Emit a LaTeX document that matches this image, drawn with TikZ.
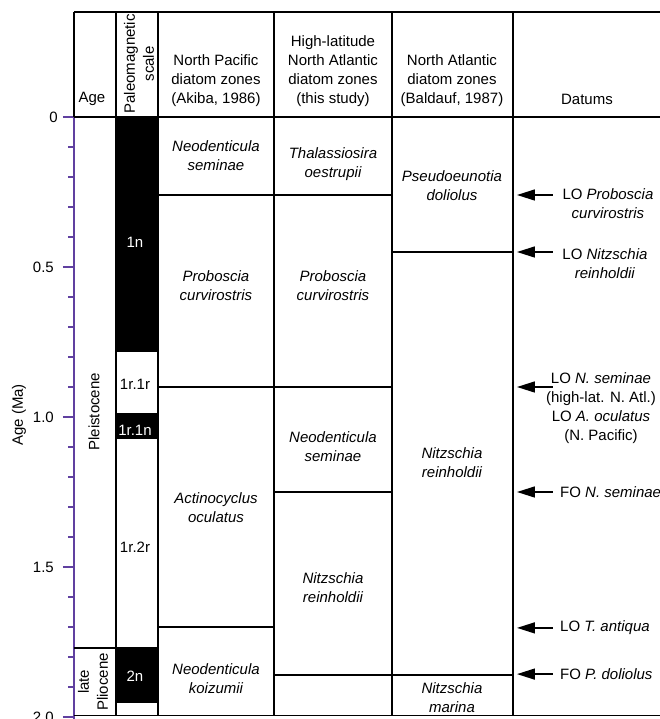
\documentclass[tikz,border=0pt]{standalone}
\usepackage{fontspec}
\setmainfont{Liberation Sans}
\usetikzlibrary{arrows.meta}
\definecolor{axispurple}{RGB}{96,64,160}

\begin{document}
\begin{tikzpicture}[x=1bp,y=-300bp,
    txt/.style={font=\fontsize{15bp}{19bp}\selectfont,align=center,inner sep=0pt},
    zone/.style={txt,font=\fontsize{15bp}{19bp}\selectfont\itshape},
    rule/.style={line width=1.6bp},
    datum/.style={line width=1.6bp,-{Triangle[length=18bp,width=11bp]}}]
		\useasboundingbox (-74,-0.39) rectangle (586,2.0067);
		%\draw[gray,step=0.1] (0,0) grid (586,2);
		% age axis
		\draw[axispurple,line width=2bp] (0,0) -- (0,2.05);
		\foreach \t in {0.1,0.2,...,1.95}
			\draw[axispurple,line width=1.5bp] (-6,\t) -- (0,\t);
		\foreach \t in {0,0.5,1,1.5,2}
			\draw[axispurple,line width=1.5bp] (-11,\t) -- (0,\t);
		\node[txt,anchor=east] (tl0) at (-16,0) {0};
		\node[txt,anchor=east] (tl1) at (-20,0.5) {0.5};
		\node[txt,anchor=east] (tl2) at (-20,1) {1.0};
		\node[txt,anchor=east] (tl3) at (-20,1.5) {1.5};
		\node[txt,anchor=east] (tl4) at (-20,2) {2.0};
		\node[txt,rotate=90] (agema) at (-55,0.993) {Age (Ma)};
		% table frame
		\draw[rule] (0,-0.35) -- (588,-0.35);
		\draw[rule] (0,0) -- (588,0);
		\draw[rule] (0,1.995) -- (588,1.995);
		\draw[rule] (0,-0.35) -- (0,0);
		\draw[rule] (42,-0.35) -- (42,1.995);
		\draw[rule] (84,-0.35) -- (84,1.995);
		\draw[rule] (200,-0.35) -- (200,1.995);
		\draw[rule] (318,-0.35) -- (318,1.995);
		\draw[rule] (439,-0.35) -- (439,1.995);
		\draw[rule] (588,-0.35) -- (588,1.995);
		% headers
		\node[txt] (hage) at (18,-0.06) {Age};
		\node[txt,rotate=90] (hpal) at (65,-0.177) {Paleomagnetic\\scale};
		\node[txt] (hnp) at (142,-0.12) {North Pacific\\diatom zones\\(Akiba, 1986)};
		\node[txt] (hhl) at (259,-0.152) {High-latitude\\North Atlantic\\diatom zones\\(this study)};
		\node[txt] (hna) at (378,-0.12) {North Atlantic\\diatom zones\\(Baldauf, 1987)};
		\node[txt] (hdat) at (513,-0.06) {Datums};
		% epochs
		\draw[rule] (0,1.77) -- (42,1.77);
		\node[txt,rotate=90] (pleist) at (20,0.983) {Pleistocene};
		\node[txt,rotate=90] (plio) at (19,1.883) {late\\Pliocene};
		% paleomagnetic scale
		\filldraw[rule] (42,0) rectangle (84,0.78);
		\filldraw[rule] (42,0.99) rectangle (84,1.07);
		\filldraw[rule] (42,1.77) rectangle (84,1.95);
		\node[txt,text=white] (c1n) at (61,0.417) {1n};
		\node[txt] (c1r1r) at (61,0.89) {1r.1r};
		\node[txt,text=white] (c1r1n) at (61,1.043) {1r.1n};
		\node[txt] (c1r2r) at (61,1.433) {1r.2r};
		\node[txt,text=white] (c2n) at (61,1.863) {2n};
		% North Pacific zones
		\draw[rule] (84,0.26) -- (200,0.26);
		\draw[rule] (84,0.9) -- (200,0.9);
		\draw[rule] (84,1.7) -- (200,1.7);
		\node[zone] (npsem) at (142,0.13) {Neodenticula\\seminae};
		\node[zone] (npcur) at (142,0.563) {Proboscia\\curvirostris};
		\node[zone] (npocu) at (142,1.303) {Actinocyclus\\oculatus};
		\node[zone] (npkoi) at (142,1.872) {Neodenticula\\koizumii};
		% high-latitude North Atlantic zones
		\draw[rule] (200,0.26) -- (318,0.26);
		\draw[rule] (200,0.9) -- (318,0.9);
		\draw[rule] (200,1.25) -- (318,1.25);
		\draw[rule] (200,1.86) -- (318,1.86);
		\node[zone] (hloes) at (259,0.157) {Thalassiosira\\oestrupii};
		\node[zone] (hlcur) at (259,0.563) {Proboscia\\curvirostris};
		\node[zone] (hlsem) at (259,1.098) {Neodenticula\\seminae};
		\node[zone] (hlrei) at (259,1.568) {Nitzschia\\reinholdii};
		% North Atlantic zones
		\draw[rule] (318,0.45) -- (439,0.45);
		\draw[rule] (318,1.86) -- (439,1.86);
		\node[zone] (nadol) at (378,0.23) {Pseudoeunotia\\doliolus};
		\node[zone] (narei) at (378,1.152) {Nitzschia\\reinholdii};
		\node[zone] (namar) at (378,1.937) {Nitzschia\\marina};
		% datums
		\coordinate (d1s) at (479,0.26);  \coordinate (d1t) at (443,0.26);
		\coordinate (d2s) at (479,0.45);  \coordinate (d2t) at (443,0.45);
		\coordinate (d3s) at (479,0.9);   \coordinate (d3t) at (443,0.9);
		\coordinate (d4s) at (479,1.25);  \coordinate (d4t) at (443,1.25);
		\coordinate (d5s) at (479,1.703); \coordinate (d5t) at (443,1.703);
		\coordinate (d6s) at (479,1.857); \coordinate (d6t) at (443,1.857);
		\draw[datum] (d1s) -- (d1t);
		\draw[datum] (d2s) -- (d2t);
		\draw[datum] (d3s) -- (d3t);
		\draw[datum] (d4s) -- (d4t);
		\draw[datum] (d5s) -- (d5t);
		\draw[datum] (d6s) -- (d6t);
		\node[txt] (lopc) at (534,0.29) {LO \textit{Proboscia}\\\textit{curvirostris}};
		\node[txt] (lonr) at (531,0.49) {LO \textit{Nitzschia}\\\textit{reinholdii}};
		\node[txt] (lons) at (527,0.972) {LO \textit{N. seminae}\\(high-lat. N. Atl.)\\LO \textit{A. oculatus}\\(N. Pacific)};
		\node[txt,anchor=west] (fons) at (486,1.25) {FO \textit{N. seminae}};
		\node[txt,anchor=west] (lota) at (486,1.703) {LO \textit{T. antiqua}};
		\node[txt,anchor=west] (fopd) at (486,1.857) {FO \textit{P. doliolus}};
	\end{tikzpicture}
\end{document}
